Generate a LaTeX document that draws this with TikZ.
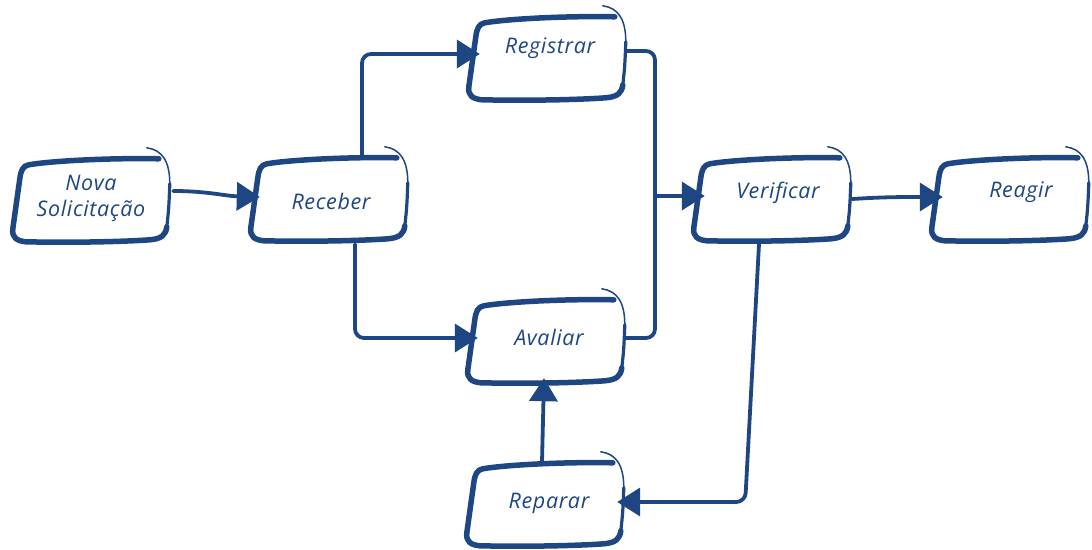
\documentclass[tikz,border=0pt]{standalone}
\usepackage{fontspec}
\setmainfont{Open Sans}
\usetikzlibrary{arrows.meta,calc}
\definecolor{ink}{RGB}{30,70,130}

\tikzset{
  x=1pt, y=-1pt,
  box/.style={minimum width=160pt, minimum height=96pt, inner sep=0pt},
  lbl/.style={text=ink, inner sep=1pt, align=center,
    font=\fontsize{21.5}{26}\selectfont\itshape\addfontfeatures{LetterSpace=3}},
  wire/.style={draw=ink, line width=3.8pt, line cap=round, line join=round, rounded corners=9pt},
  arrowed/.style={-{Triangle[length=23pt, width=28pt]}},
}

% hand-sketched frame around a box node
\newcommand{\sketchframe}[1]{%
  \begin{scope}[shift={(#1.north west)}, draw=ink, line cap=round, line join=round]
    \draw[line width=5.5pt] (147,10) .. controls (100,9) and (40,12) .. (17,16)
      .. controls (11,17) and (9,22) .. (8,30) -- (1,80)
      .. controls (0,89) and (5,92) .. (14,93)
      .. controls (60,94) and (110,93) .. (138,91)
      .. controls (150,90) and (154,86) .. (155,78);
    \draw[line width=3.2pt] (155,78) .. controls (157,60) .. (158,35);
    \draw[line width=1.5pt] (135,-1) .. controls (150,1) and (158,12) .. (158,35);
  \end{scope}}

\begin{document}
\begin{tikzpicture}
  \useasboundingbox (0,0) rectangle (1092,549);

  % boxes
  \node[box] (nova)  at (92,197)   {};
  \node[box] (recv)  at (330,196)  {};
  \node[box] (reg)   at (548,55)   {};
  \node[box] (aval)  at (547,338)  {};
  \node[box] (verif) at (773,196)  {};
  \node[box] (reag)  at (1011,196) {};
  \node[box] (rep)   at (546,501)  {};

  \foreach \b in {nova,recv,reg,aval,verif,reag,rep} {\sketchframe{\b}}

  % labels
  \node[lbl] (nova-t)  at ($(nova)+(-1,1)$)   {Nova\\Solicitação};
  \node[lbl] (recv-t)  at ($(recv)+(1,5)$)    {Receber};
  \node[lbl] (reg-t)   at ($(reg)+(2,-7)$)    {Registrar};
  \node[lbl] (aval-t)  at ($(aval)+(2,-1)$)   {Avaliar};
  \node[lbl] (verif-t) at ($(verif)+(5,-3)$)  {Verificar};
  \node[lbl] (reag-t)  at ($(reag)+(10,-4)$)  {Reagir};
  \node[lbl] (rep-t)   at ($(rep)+(3,2)$)     {Reparar};

  % connectors
  \draw[wire, arrowed] ($(nova.east)+(1,-6)$)
    .. controls ($(nova.east)+(35,-6)$) and ($(recv.west)+(-25,0)$) .. ($(recv.west)+(10,1)$);
  \draw[wire, arrowed] ($(recv.north)+(32,9)$) |- ($(reg.west)+(12,-1)$);
  \draw[wire, arrowed] ($(recv.south)+(25,0)$) |- ($(aval.west)+(11,0)$);

  \coordinate (jn) at (655,196);
  \draw[wire] ($(reg.east)+(-1,-4)$) -| (jn) |- ($(aval.east)+(-1,0)$);
  \draw[wire, arrowed] (jn) -- ($(verif.west)+(12,0)$);

  \draw[wire, arrowed] ($(verif.east)+(-1,3)$)
    .. controls ($(verif.east)+(30,1)$) and ($(reag.west)+(-30,1)$) .. ($(reag.west)+(12,1)$);
  \draw[wire, arrowed] ($(verif.south)+(-14,0)$) -- ($(rep.east)+(119,1)$) -- ($(rep.east)+(-9,1)$);
  \draw[wire, arrowed] ($(rep.north)+(-4,9)$) -- ($(aval.south)+(-3,-8)$);
\end{tikzpicture}
\end{document}
